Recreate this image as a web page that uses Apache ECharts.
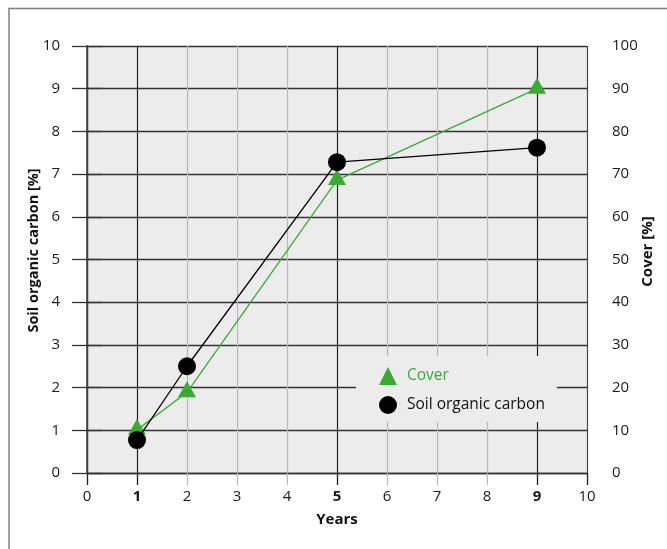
<!DOCTYPE html>
<html><head><meta charset="utf-8">
<script src="https://cdn.jsdelivr.net/npm/echarts@6/dist/echarts.min.js"></script>
<style>html,body{margin:0;padding:0;background:#fff}#c{width:667px;height:549px}</style>
</head><body><div id="c"></div>
<script>
var years = [1, 2, 5, 9];
var coverValues = [10.1, 18.9, 68.6, 90];
var socValues = [0.77, 2.5, 7.28, 7.62];
var xTicks = [0,1,2,3,4,5,6,7,8,9,10];
var boldYears = [1, 5, 9];
var FONT = '"Open Sans", "Noto Sans", sans-serif';
var GREEN = '#3aaa35';

var chart = echarts.init(document.getElementById('c'));
var splitColors = xTicks.map(function (v) {
  return (v === 0 || v === 10) ? '#444' : (boldYears.indexOf(v) >= 0 ? '#222' : '#b8b8b8');
});
chart.setOption({
  animation: false,
  textStyle: { fontFamily: FONT },
  graphic: [{
    type: 'polyline', silent: true,
    shape: { points: [[9, 549], [9, 8.5], [667, 8.5]] },
    style: { stroke: '#808080', lineWidth: 1.5, fill: null }
  }],
  grid: { left: 87, right: 80, top: 46, bottom: 76, show: true, backgroundColor: '#ececec', borderWidth: 0,
          containLabel: false, outerBoundsMode: 'none' },
  legend: {
    orient: 'vertical', left: 356, top: 356,
    backgroundColor: '#ececec',
    padding: [11, 12, 8, 23],
    itemWidth: 18, itemHeight: 18, itemGap: 11,
    textStyle: { fontSize: 15.5, fontFamily: FONT, padding: [0, 0, 0, 5] },
    data: [
      { name: 'Cover', icon: 'triangle', textStyle: { color: GREEN } },
      { name: 'Soil organic carbon', icon: 'circle', textStyle: { color: '#111' } }
    ]
  },
  xAxis: [{
    type: 'value', min: 0, max: 10, interval: 1,
    name: 'Years', nameLocation: 'middle', nameGap: 39, nameMoveOverlap: false,
    nameTextStyle: { fontWeight: 'bold', fontSize: 15, color: '#111', fontFamily: FONT },
    axisLine: { show: true, lineStyle: { color: '#333', width: 1.3 } },
    axisTick: { show: true, length: 12, lineStyle: { color: '#b8b8b8', width: 1.2 } },
    axisLabel: {
      margin: 16, fontSize: 15, color: '#1a1a1a', fontFamily: FONT,
      formatter: function (v) { return boldYears.indexOf(v) >= 0 ? '{b|' + v + '}' : String(v); },
      rich: { b: { fontWeight: 'bold', fontSize: 15, color: '#1a1a1a', fontFamily: FONT } }
    },
    splitLine: { show: true, lineStyle: { color: splitColors, width: 1.2 } }
  }, {
    type: 'value', min: 0, max: 10, interval: 1, position: 'bottom',
    axisLine: { show: false },
    axisTick: { show: true, length: 12, customValues: [0, 1, 5, 9, 10], lineStyle: { color: '#222', width: 1.3 } },
    axisLabel: { show: false },
    splitLine: { show: false }
  }],
  yAxis: [{
    type: 'value', min: 0, max: 10, interval: 1, position: 'left',
    name: 'Soil organic carbon [%]', nameLocation: 'middle', nameGap: 46, nameMoveOverlap: false,
    nameTextStyle: { fontWeight: 'bold', fontSize: 14.5, color: '#111', fontFamily: FONT, padding: [0, 0, 0, 18] },
    axisLine: { show: true, lineStyle: { color: '#333', width: 1.3 } },
    axisTick: { show: true, length: 15, lineStyle: { color: '#333', width: 1.3 } },
    axisLabel: { margin: 27, fontSize: 15, color: '#1a1a1a', fontFamily: FONT },
    splitLine: { show: true, lineStyle: { color: '#333', width: 1.3 } }
  }, {
    type: 'value', min: 0, max: 100, interval: 10, position: 'right',
    name: 'Cover [%]', nameLocation: 'middle', nameGap: 53, nameMoveOverlap: false,
    nameTextStyle: { fontWeight: 'bold', fontSize: 15, color: '#111', fontFamily: FONT, padding: [0, 0, 0, 16] },
    axisLine: { show: true, lineStyle: { color: '#444', width: 1.5 } },
    axisTick: { show: true, length: 15, lineStyle: { color: '#333', width: 1.3 } },
    axisLabel: { margin: 25, fontSize: 15, color: '#1a1a1a', fontFamily: FONT },
    splitLine: { show: false }
  }],
  series: [{
    name: 'Cover', type: 'line', yAxisIndex: 1,
    data: years.map(function (y, i) { return [y, coverValues[i]]; }),
    symbol: 'triangle', symbolSize: [18, 16], symbolOffset: [0, -3],
    lineStyle: { color: GREEN, width: 1.3 },
    itemStyle: { color: GREEN },
    z: 3
  }, {
    name: 'Soil organic carbon', type: 'line', yAxisIndex: 0,
    data: years.map(function (y, i) { return [y, socValues[i]]; }),
    symbol: 'circle', symbolSize: 18,
    lineStyle: { color: '#000', width: 1.3 },
    itemStyle: { color: '#000' },
    z: 4
  }]
});
</script></body></html>
